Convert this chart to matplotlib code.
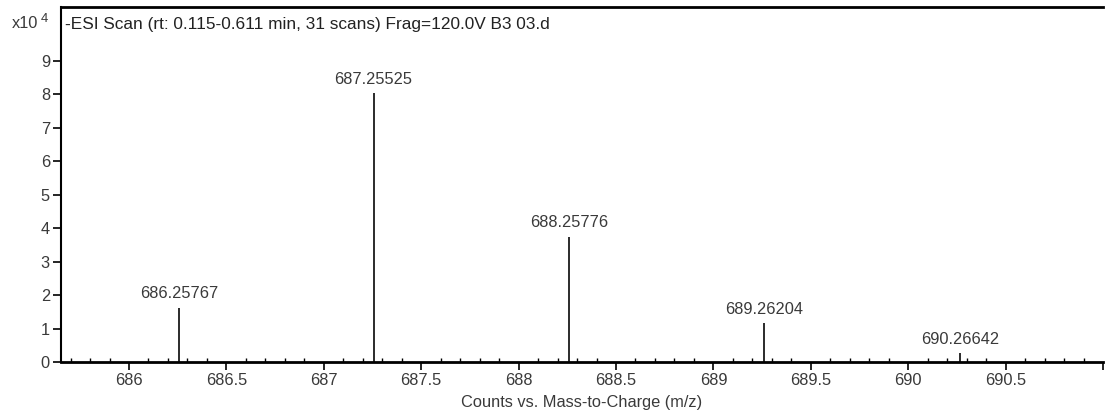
import matplotlib
matplotlib.use("Agg")
import matplotlib.pyplot as plt
from matplotlib.ticker import MultipleLocator, FixedLocator

plt.rcParams['font.family'] = ['Liberation Sans', 'DejaVu Sans']

# Data
mz = [686.25767, 687.25525, 688.25776, 689.26204, 690.26642]
counts_e4 = [1.62, 8.02, 3.74, 1.17, 0.26]
peak_labels = ["686.25767", "687.25525", "688.25776", "689.26204", "690.26642"]
x_ticks = [686, 686.5, 687, 687.5, 688, 688.5, 689, 689.5, 690, 690.5]
x_tick_labels = ["686", "686.5", "687", "687.5", "688", "688.5", "689", "689.5", "690", "690.5"]
y_ticks = [0, 1, 2, 3, 4, 5, 6, 7, 8, 9]
title = "-ESI Scan (rt: 0.115-0.611 min, 31 scans) Frag=120.0V B3 03.d"
xlabel = "Counts vs. Mass-to-Charge (m/z)"

W, H = 1108, 416
fig = plt.figure(figsize=(W / 100, H / 100), dpi=100)
ax = fig.add_axes([61 / W, 1 - 362 / H, (1103 - 61) / W, (362 - 7) / H])

txt = '#3a3a3a'
fs = 11.8

ax.vlines(mz, 0, counts_e4, color='#1a1a1a', linewidth=1.3)
for x, y, lab in zip(mz, counts_e4, peak_labels):
    ax.annotate(lab, (x, y), xytext=(0, 4.5), textcoords='offset points',
                ha='center', va='bottom', fontsize=fs, color=txt)

ax.set_xlim(685.651, 691.0)
ax.set_ylim(0, 10.6)

ax.xaxis.set_major_locator(FixedLocator(x_ticks + [691.0]))
ax.set_xticklabels(x_tick_labels + [""])
ax.xaxis.set_minor_locator(MultipleLocator(0.1))
ax.set_yticks(y_ticks)
ax.set_yticklabels([str(v) for v in y_ticks])

ax.tick_params(axis='x', which='major', direction='out', length=6, width=1.2,
               labelsize=fs, labelcolor=txt, pad=2)
ax.tick_params(axis='x', which='minor', direction='in', length=3, width=1.0)
ax.tick_params(axis='y', which='major', direction='out', length=6, width=1.2,
               labelsize=fs, labelcolor=txt, pad=2)

ax.spines['right'].set_visible(False)
ax.spines['bottom'].set_linewidth(2.0)
ax.spines['top'].set_linewidth(2.0)
ax.spines['left'].set_linewidth(1.5)

ax.set_xlabel(xlabel, fontsize=fs, color=txt, labelpad=5)

fig.text(65 / W, 1 - 24 / H, title, ha='left', va='center',
         fontsize=12.4, color='#222222')

fig.text(12 / W, 1 - 24 / H, "x10", ha='left', va='center', fontsize=fs, color=txt)
fig.text(41 / W, 1 - 19 / H, "4", ha='left', va='center', fontsize=fs * 0.8, color=txt)

fig.savefig("out.png", dpi=100, facecolor='white')
